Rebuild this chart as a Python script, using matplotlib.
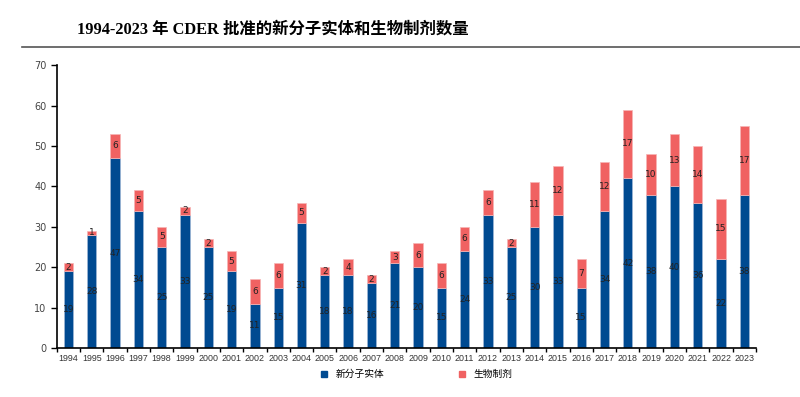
import numpy as np
import matplotlib.pyplot as plt
from matplotlib.lines import Line2D

plt.rcParams['font.family'] = ['DejaVu Sans', 'Noto Sans CJK SC']

years = [str(y) for y in range(1994, 2024)]
nme = [19, 28, 47, 34, 25, 33, 25, 19, 11, 15, 31, 18, 18, 16, 21, 20, 15, 24, 33, 25,
       30, 33, 15, 34, 42, 38, 40, 36, 22, 38]
bla = [2, 1, 6, 5, 5, 2, 2, 5, 6, 6, 5, 2, 4, 2, 3, 6, 6, 6, 6, 2,
       11, 12, 7, 12, 17, 10, 13, 14, 15, 17]

blue = "#004A91"
red = "#F06262"

fig = plt.figure(figsize=(8, 3.97), dpi=100)
ax = fig.add_axes([0.071, 0.123, 0.874, 0.713])

x = np.arange(len(years))
ax.bar(x, nme, width=0.4, color=blue, edgecolor="#9fb7d6", linewidth=0.5)
ax.bar(x, bla, width=0.4, bottom=nme, color=red, edgecolor="#f6b5b5", linewidth=0.5)

for i in range(len(years)):
    ax.text(x[i], nme[i] / 2, str(nme[i]), ha="center", va="center", fontsize=6.5, color="#222222")
    ax.text(x[i], nme[i] + bla[i] / 2, str(bla[i]), ha="center", va="center", fontsize=6.5, color="#222222")

ax.set_xlim(-0.5, len(years) - 0.5)
ax.set_ylim(0, 70)
ax.set_yticks(range(0, 71, 10))
ax.tick_params(axis="y", labelsize=7, labelcolor="#444444", length=4, width=1)
ax.set_xticks(x)
ax.set_xticklabels(years, family=["Liberation Sans"], fontsize=6.4)
ax.tick_params(axis="x", which="major", length=0, labelcolor="#333333", pad=4)
ax.set_xticks(np.arange(-0.5, len(years), 1), minor=True)
ax.tick_params(axis="x", which="minor", length=3, width=1)
for s in ["top", "right"]:
    ax.spines[s].set_visible(False)
ax.spines["left"].set_linewidth(1.2)
ax.spines["bottom"].set_linewidth(1.2)

handles = [Line2D([], [], marker="s", color=blue, linestyle="none", markersize=5),
           Line2D([], [], marker="s", color=red, linestyle="none", markersize=5)]
fig.legend(handles, ["新分子实体", "生物制剂"], loc="center", bbox_to_anchor=(0.517, 0.058),
           ncol=2, frameon=False, columnspacing=7, handletextpad=0.2,
           prop={"family": ["Noto Sans CJK SC"], "size": 7})

fig.text(0.096, 0.925, "1994-2023 年 CDER 批准的新分子实体和生物制剂数量", fontsize=11.8,
         fontweight="bold", va="center", ha="left",
         family=["Liberation Serif", "Noto Sans CJK SC"])
fig.add_artist(Line2D([0.028, 1.0], [0.882, 0.882], color="#555555", linewidth=1.2))

fig.savefig("out.png", dpi=100)
